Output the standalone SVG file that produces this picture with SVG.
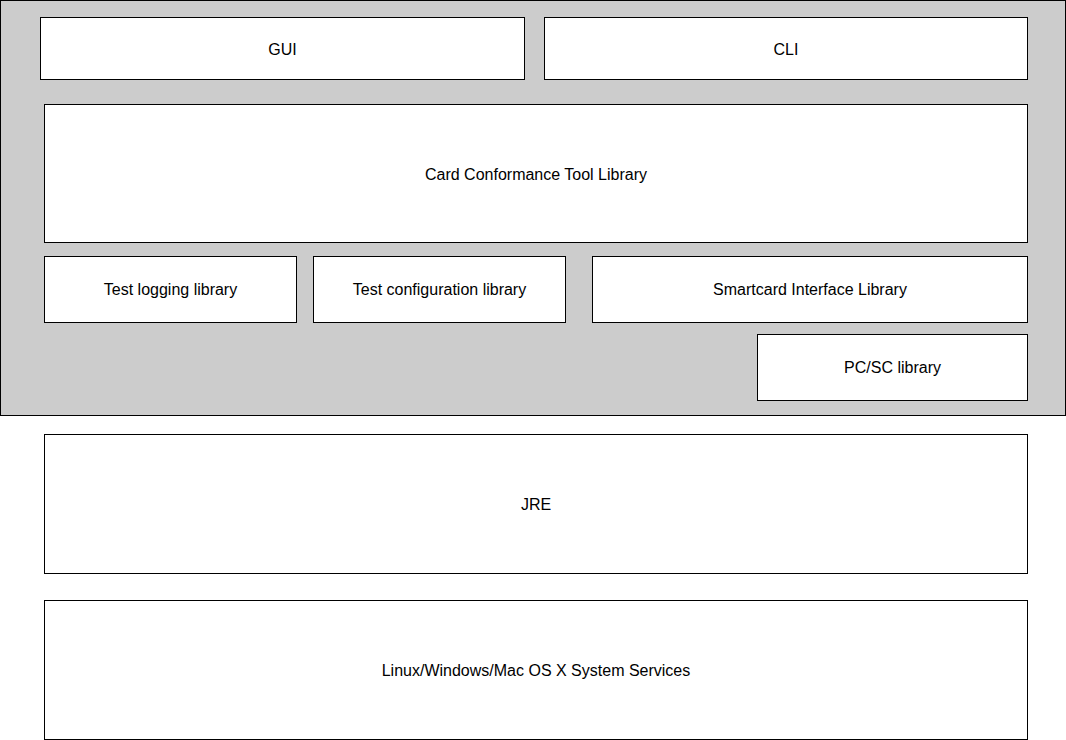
<svg xmlns="http://www.w3.org/2000/svg" width="1066" height="740" viewBox="0 0 1066 740">
<style>
.b{fill:#fff;stroke:#000;stroke-width:1}
.t{font-family:"Liberation Sans",Arial,sans-serif;font-size:16px;fill:#000;text-anchor:middle;dominant-baseline:central}
</style>
<rect width="1066" height="740" fill="#fff"/>
<g id="container"><rect x="0.5" y="0.5" width="1065" height="415" fill="#cccccc" stroke="#000"/></g>
<g id="gui"><rect class="b" x="40.5" y="17.5" width="484" height="62"/><text class="t" x="282.5" y="49">GUI</text></g>
<g id="cli"><rect class="b" x="544.5" y="17.5" width="483" height="62"/><text class="t" x="786" y="49">CLI</text></g>
<g id="cct"><rect class="b" x="44.5" y="104.5" width="983" height="138"/><text class="t" x="536" y="174">Card Conformance Tool Library</text></g>
<g id="log"><rect class="b" x="44.5" y="256.5" width="252" height="66"/><text class="t" x="170.5" y="289">Test logging library</text></g>
<g id="conf"><rect class="b" x="313.5" y="256.5" width="252" height="66"/><text class="t" x="439.5" y="289">Test configuration library</text></g>
<g id="sc"><rect class="b" x="592.5" y="256.5" width="435" height="66"/><text class="t" x="810" y="289">Smartcard Interface Library</text></g>
<g id="pcsc"><rect class="b" x="757.5" y="334.5" width="270" height="66"/><text class="t" x="892.5" y="367">PC/SC library</text></g>
<g id="jre"><rect class="b" x="44.5" y="434.5" width="983" height="139"/><text class="t" x="536" y="504">JRE</text></g>
<g id="os"><rect class="b" x="44.5" y="600.5" width="983" height="139"/><text class="t" x="536" y="670">Linux/Windows/Mac OS X System Services</text></g>
<g id="connectors"></g>
</svg>
